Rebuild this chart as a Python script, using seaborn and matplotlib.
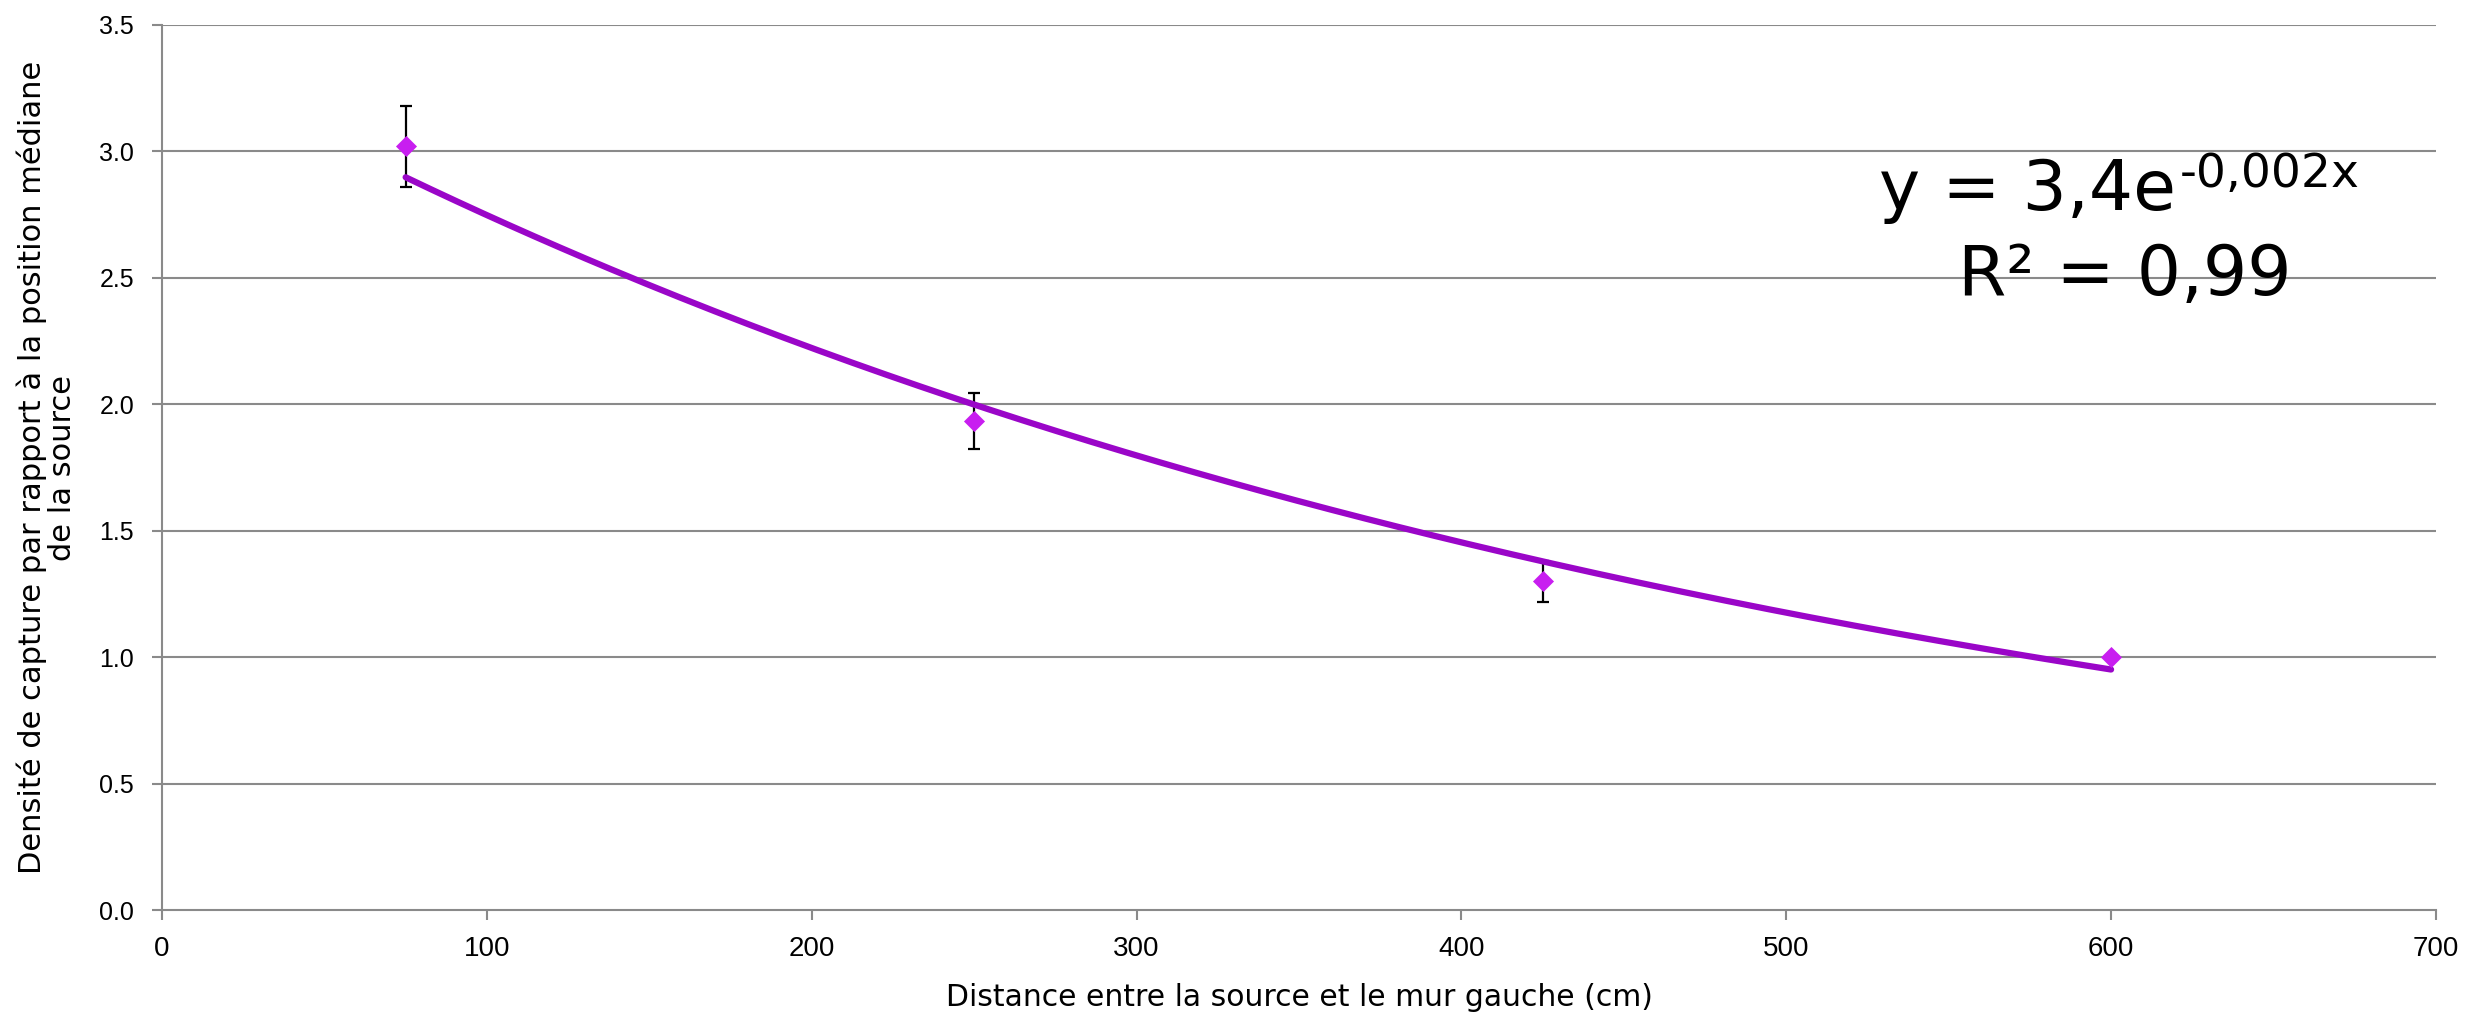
import numpy as np
import pandas as pd
import matplotlib.pyplot as plt
import seaborn as sns

# values
distance = [75, 250, 425, 600]
densite = [3.02, 1.935, 1.30, 1.00]
erreur = [0.16, 0.11, 0.08, 0.0]
xticks = [0, 100, 200, 300, 400, 500, 600, 700]
yticks = [0.0, 0.5, 1.0, 1.5, 2.0, 2.5, 3.0, 3.5]

df = pd.DataFrame({"distance": distance, "densite": densite, "erreur": erreur})

# exponential fit y = a*exp(b*x)
b, lna = np.polyfit(df["distance"], np.log(df["densite"]), 1)
xfit = np.linspace(min(distance), max(distance), 200)
fit = pd.DataFrame({"distance": xfit, "densite": np.exp(lna) * np.exp(b * xfit)})

sns.set_theme(style="white")
plt.rcParams["font.family"] = ["Liberation Sans", "DejaVu Sans"]
plt.rcParams["text.color"] = "black"
plt.rcParams["axes.labelcolor"] = "black"
plt.rcParams["xtick.labelcolor"] = "black"
plt.rcParams["ytick.labelcolor"] = "black"

fig = plt.figure(figsize=(24.66, 10.16), dpi=100)
ax = fig.add_axes([0.0657, 0.1043, 0.9221, 0.8711])

gris = "#8a8a8a"
for y in yticks[1:]:
    ax.axhline(y, color=gris, lw=1.5, zorder=0)

ax.errorbar(df["distance"], df["densite"], yerr=df["erreur"], fmt="none",
            ecolor="black", elinewidth=1.6, capsize=4.5, capthick=1.6, zorder=2)
sns.lineplot(data=fit, x="distance", y="densite", ax=ax, color="#9A06C8",
             lw=4.5, solid_capstyle="round", zorder=3)
sns.scatterplot(data=df, x="distance", y="densite", ax=ax, marker="D",
                s=115, color="#C81EF0", linewidth=0, zorder=4)

ax.set_xlim(0, 700)
ax.set_ylim(0, 3.5)
ax.set_xticks(xticks)
ax.set_yticks(yticks)
ax.set_yticklabels([f"{v:.1f}" for v in yticks])

for side in ["top", "right"]:
    ax.spines[side].set_visible(False)
for side in ["left", "bottom"]:
    ax.spines[side].set_color(gris)
    ax.spines[side].set_linewidth(1.5)

ax.tick_params(axis="y", which="major", left=True, length=7, width=1.5,
               color=gris, labelsize=18, pad=13)
ax.tick_params(axis="x", which="major", bottom=True, length=7, width=1.5,
               color=gris, labelsize=20, pad=12)

lab_font = ["DejaVu Sans"]
ax.set_xlabel("Distance entre la source et le mur gauche (cm)",
              fontsize=21.5, family=lab_font, labelpad=15)
ax.set_ylabel("Densité de capture par rapport à la position médiane\nde la source",
              fontsize=22, family=lab_font, labelpad=16, linespacing=1.05)

eq_font = ["DejaVu Sans"]
ax.text(0.8857, 0.791, "y = 3,4e", transform=ax.transAxes,
        ha="right", va="baseline", fontsize=50, family=eq_font)
ax.text(0.8874, 0.817, "-0,002x", transform=ax.transAxes,
        ha="left", va="baseline", fontsize=34, family=eq_font)
ax.text(0.8632, 0.695, "R² = 0,99", transform=ax.transAxes,
        ha="center", va="baseline", fontsize=50, family=eq_font)

fig.savefig("out.png", dpi=100)
